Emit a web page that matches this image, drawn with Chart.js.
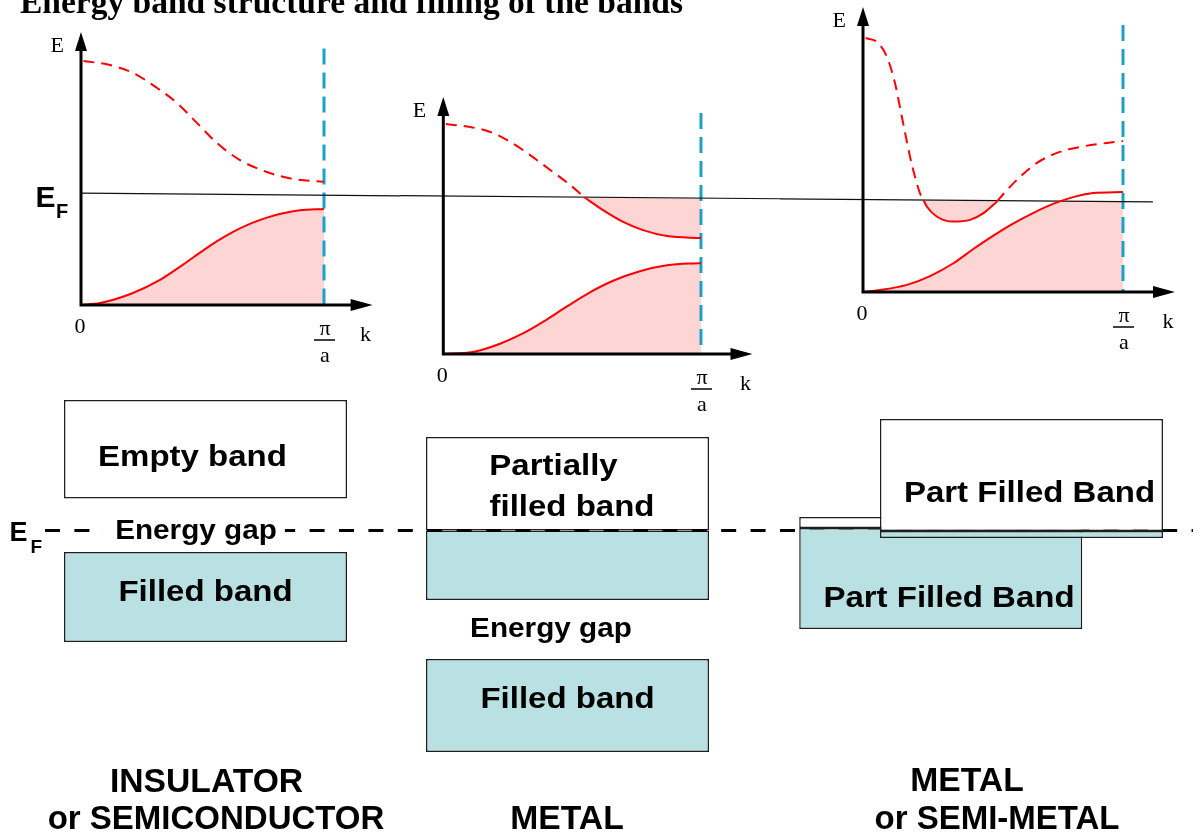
<!DOCTYPE html>
<html><head><meta charset="utf-8">
<script src="https://cdn.jsdelivr.net/npm/chart.js@4.4.1/dist/chart.umd.min.js"></script>
<style>
html,body{margin:0;padding:0;background:#fff;}
#wrap{position:relative;width:1201px;height:839px;overflow:hidden;background:#fff;}
canvas{position:absolute;}
#cBands{left:0;top:0;}
#cP1{left:0;top:0;}
#cP2{left:400px;top:0;}
#cP3{left:780px;top:0;}
</style></head><body>
<div id="wrap">
<canvas id="cBands" width="1201" height="839"></canvas>
<canvas id="cP1" width="400" height="380"></canvas>
<canvas id="cP2" width="380" height="420"></canvas>
<canvas id="cP3" width="421" height="370"></canvas>
</div>
<script>
// ---------- DATA (k in units of pi/a, E in arbitrary units per panel) ----------
const zoneEdgeK = 1;
// Panel 1: insulator / semiconductor
const p1LowerK = [0, 0.078, 0.214, 0.325, 0.42, 0.49, 0.56, 0.626, 0.695, 0.765, 0.831, 0.901, 1];
const p1LowerE = [0, 0.007, 0.044, 0.092, 0.148, 0.192, 0.234, 0.268, 0.297, 0.320, 0.336, 0.347, 0.352];
const p1UpperK = [0.01, 0.119, 0.214, 0.313, 0.395, 0.477, 0.560, 0.654, 0.765, 0.872, 1];
const p1UpperE = [0.894, 0.879, 0.850, 0.795, 0.740, 0.667, 0.593, 0.531, 0.487, 0.462, 0.451];
const p1FermiK = [0, 1.313];
const p1FermiE = [0.410, 0.400];
const p1EdgeTopE = 0.94;
// Panel 2: metal
const p2LowerK = [0, 0.115, 0.22, 0.309, 0.387, 0.48, 0.569, 0.659, 0.763, 0.868, 1];
const p2LowerE = [0, 0.008, 0.040, 0.080, 0.125, 0.185, 0.240, 0.285, 0.322, 0.345, 0.354];
const p2UpperEmptyK = [0.01, 0.105, 0.182, 0.260, 0.337, 0.415, 0.492, 0.547];
const p2UpperEmptyE = [0.895, 0.883, 0.864, 0.825, 0.774, 0.716, 0.658, 0.610];
const p2UpperFilledK = [0.547, 0.620, 0.698, 0.775, 0.868, 1];
const p2UpperFilledE = [0.610, 0.560, 0.514, 0.482, 0.459, 0.451];
const p2FermiK = [-0.168, 1.307];
const p2FermiE = [0.616, 0.604];
const p2FermiFill = 0.608;
const p2EdgeTopE = 0.938;
// Panel 3: metal or semi-metal
const p3LowerK = [0, 0.065, 0.169, 0.258, 0.346, 0.423, 0.500, 0.577, 0.654, 0.731, 0.808, 0.885, 1];
const p3LowerE = [0, 0.007, 0.025, 0.056, 0.100, 0.150, 0.197, 0.240, 0.277, 0.309, 0.333, 0.347, 0.351];
const p3LowerFillK = [0, 0.065, 0.169, 0.258, 0.346, 0.423, 0.500, 0.577, 0.654, 0.731, 0.765, 1];
const p3LowerFillE = [0, 0.007, 0.025, 0.056, 0.100, 0.150, 0.197, 0.240, 0.277, 0.309, 0.318, 0.316];
const p3UpperK1 = [0.01, 0.054, 0.092, 0.123, 0.142, 0.162, 0.181, 0.200, 0.219, 0.233];
const p3UpperE1 = [0.891, 0.877, 0.825, 0.733, 0.649, 0.558, 0.474, 0.404, 0.347, 0.322];
const p3PocketK = [0.233, 0.246, 0.285, 0.346, 0.412, 0.462, 0.515];
const p3PocketE = [0.322, 0.299, 0.264, 0.247, 0.253, 0.276, 0.317];
const p3UpperK2 = [0.515, 0.554, 0.604, 0.669, 0.746, 0.835, 0.938, 1];
const p3UpperE2 = [0.317, 0.358, 0.404, 0.453, 0.488, 0.509, 0.523, 0.530];
const p3FermiK = [-0.319, 1.115];
const p3FermiE = [0.327, 0.316];
const p3FermiFill = 0.32;
const p3EdgeTopE = 0.937;

// Band-filling schematic (energy relative to E_F)
const insCol = 1, metCol = 2, smLowerCol = 3.031, smUpperCol = 3.254;
const insEmptyBand = [0.32, 1.305];
const insFilledBand = [-1.115, -0.215];
const metPartialEmpty = [0, 0.935];
const metPartialFilled = [-0.695, 0];
const metFilledBand = [-2.215, -1.285];
const smLowerEmpty = [0.025, 0.135];
const smLowerFilled = [-0.985, 0.025];
const smUpperEmpty = [-0.005, 1.115];
const smUpperFilled = [-0.075, -0.005];
const fermiLevel = 0;
const fermiSpan = [0.5566, 3.7279];

// ---------- STYLE ----------
const RED = '#ff0000', PINK = 'rgb(253,213,213)', CYAN = '#1ca0c8', TEAL = 'rgb(185,224,227)';
const SANS = '"Liberation Sans", Arial, sans-serif';
const SERIF = '"Liberation Serif", "Times New Roman", serif';
const pts = (ks, es) => ks.map((k, i) => ({x: k, y: es[i]}));

function bandLine(ks, es, o) {
  return Object.assign({data: pts(ks, es), showLine: true, borderColor: RED, borderWidth: 2, pointRadius: 0,
    cubicInterpolationMode: 'monotone', fill: false, clip: false, borderCapStyle: 'butt'}, o || {});
}
function fermiLine(ks, es) {
  return {data: pts(ks, es), showLine: true, borderColor: '#111', borderWidth: 1.2, pointRadius: 0,
    tension: 0, fill: false, clip: false};
}
function zoneEdge(top) {
  return {data: [{x: zoneEdgeK, y: top}, {x: zoneEdgeK, y: 0}], showLine: true, borderColor: CYAN, borderWidth: 3,
    borderDash: [16, 8], pointRadius: 0, fill: false, clip: false, borderCapStyle: 'butt'};
}

const panelDecor = {
  id: 'panelDecor',
  afterDatasetsDraw(chart, args, o) {
    const {ctx, scales: {x, y}} = chart;
    const x0 = x.getPixelForValue(0), y0 = y.getPixelForValue(0);
    const xT = x.getPixelForValue(x.max), yT = y.getPixelForValue(y.max);
    const x1 = x.getPixelForValue(zoneEdgeK);
    ctx.save();
    ctx.strokeStyle = '#000'; ctx.fillStyle = '#000'; ctx.lineWidth = 3; ctx.lineCap = 'butt';
    ctx.beginPath();
    ctx.moveTo(x0 - 1.5, y0); ctx.lineTo(xT - 20, y0);
    ctx.moveTo(x0, y0 + 1.5); ctx.lineTo(x0, yT + 17);
    ctx.stroke();
    ctx.beginPath(); ctx.moveTo(xT, y0); ctx.lineTo(xT - 22, y0 - 6); ctx.lineTo(xT - 22, y0 + 6); ctx.closePath(); ctx.fill();
    ctx.beginPath(); ctx.moveTo(x0, yT); ctx.lineTo(x0 - 6, yT + 19); ctx.lineTo(x0 + 6, yT + 19); ctx.closePath(); ctx.fill();
    ctx.font = '22px ' + SERIF;
    ctx.textBaseline = 'alphabetic';
    ctx.textAlign = 'right'; ctx.fillText('E', x0 - 17, yT + 20);
    ctx.textAlign = 'center';
    ctx.fillText('0', x0 - 1, y0 + 28);
    ctx.fillText('π', x1 + 1, y0 + 30);
    ctx.fillText('a', x1 + 1, y0 + 57);
    ctx.fillText('k', xT - 7, y0 + 36);
    ctx.lineWidth = 1.5;
    ctx.beginPath(); ctx.moveTo(x1 - 10, y0 + 35); ctx.lineTo(x1 + 11, y0 + 35); ctx.stroke();
    if (o && o.fermiE !== undefined) {
      const yF = y.getPixelForValue(o.fermiE);
      ctx.textAlign = 'left';
      ctx.font = 'bold 30px ' + SANS; ctx.fillText('E', x0 - 45.5, yF + 13.7);
      ctx.font = 'bold 20px ' + SANS; ctx.fillText('F', x0 - 25, yF + 24.7);
    }
    ctx.restore();
  }
};

function panel(id, pad, datasets, deco) {
  return new Chart(document.getElementById(id), {
    type: 'scatter',
    data: {datasets},
    options: {
      responsive: false, animation: false, devicePixelRatio: 1, events: [],
      layout: {padding: pad},
      plugins: {legend: {display: false}, tooltip: {enabled: false}, title: {display: false},
        filler: {drawTime: 'beforeDatasetsDraw'}, panelDecor: deco || {}},
      scales: {x: {type: 'linear', min: 0, max: 1.2, display: false},
               y: {type: 'linear', min: 0, max: 1, display: false}}
    },
    plugins: [panelDecor]
  });
}

panel('cP1', {left: 81, right: 27.4, top: 32, bottom: 75}, [
  bandLine(p1LowerK, p1LowerE, {fill: 'origin', backgroundColor: PINK}),
  bandLine(p1UpperK, p1UpperE, {borderDash: [11, 7]}),
  fermiLine(p1FermiK, p1FermiE),
  zoneEdge(p1EdgeTopE)
], {fermiE: p1FermiE[0]});

panel('cP2', {left: 43.3, right: 27.5, top: 97, bottom: 66}, [
  bandLine(p2LowerK, p2LowerE, {fill: 'origin', backgroundColor: PINK}),
  bandLine(p2UpperEmptyK, p2UpperEmptyE, {borderDash: [11, 7]}),
  bandLine(p2UpperFilledK, p2UpperFilledE, {fill: {value: p2FermiFill}, backgroundColor: PINK}),
  fermiLine(p2FermiK, p2FermiE),
  zoneEdge(p2EdgeTopE)
]);

panel('cP3', {left: 83, right: 26, top: 7, bottom: 78}, [
  bandLine(p3LowerK, p3LowerE),
  bandLine(p3UpperK1, p3UpperE1, {borderDash: [11, 7]}),
  bandLine(p3PocketK, p3PocketE, {fill: {value: p3FermiFill}, backgroundColor: PINK}),
  bandLine(p3UpperK2, p3UpperE2, {borderDash: [11, 7]}),
  fermiLine(p3FermiK, p3FermiE),
  zoneEdge(p3EdgeTopE),
  bandLine(p3LowerFillK, p3LowerFillE, {borderWidth: 0, borderColor: 'rgba(0,0,0,0)', fill: 'origin', backgroundColor: PINK})
]);

// ---------- band filling schematic ----------
function bandBox(col, range, color, order, label) {
  return {type: 'bar', label, data: [{x: col, y: range}], backgroundColor: color, borderColor: '#1e1e1e',
    borderWidth: 1.5, borderSkipped: false, barThickness: 283, stack: 'bands', order, inflateAmount: 0};
}

const textItems = [
  {text: 'Energy band structure and filling of the bands', x: 0.4876, y: 5.175, font: 'bold 33.5px ' + SERIF, align: 'left'},
  {text: 'Empty band', x: 0.9641, y: 0.645, font: 'bold 30px ' + SANS, sx: 1.1},
  {text: 'Filled band', x: 1.0, y: -0.702, font: 'bold 30px ' + SANS, sx: 1.1},
  {text: 'Energy gap', x: 0.9738, y: -0.088, font: 'bold 27px ' + SANS, sx: 1.1, bg: '#fff'},
  {text: 'Partially', x: 1.9613, y: 0.555, font: 'bold 30px ' + SANS, sx: 1.1},
  {text: 'filled band', x: 2.0124, y: 0.148, font: 'bold 30px ' + SANS, sx: 1.1},
  {text: 'Energy gap', x: 1.9544, y: -1.062, font: 'bold 27px ' + SANS, sx: 1.1},
  {text: 'Filled band', x: 2.0, y: -1.778, font: 'bold 30px ' + SANS, sx: 1.1},
  {text: 'Part Filled Band', x: 3.2762, y: 0.288, font: 'bold 30px ' + SANS, sx: 1.1},
  {text: 'Part Filled Band', x: 3.0539, y: -0.768, font: 'bold 30px ' + SANS, sx: 1.1},
  {text: 'E', x: 0.4586, y: -0.105, font: 'bold 27px ' + SANS, align: 'left'},
  {text: 'F', x: 0.5166, y: -0.225, font: 'bold 19px ' + SANS, align: 'left'},
  {text: 'INSULATOR', x: 1.0028, y: -2.612, font: 'bold 33px ' + SANS, sx: 1.02},
  {text: 'or SEMICONDUCTOR', x: 1.029, y: -2.985, font: 'bold 33px ' + SANS, sx: 1.0},
  {text: 'METAL', x: 1.9986, y: -2.985, font: 'bold 33px ' + SANS, sx: 1.02},
  {text: 'METAL', x: 3.1036, y: -2.605, font: 'bold 33px ' + SANS, sx: 1.02},
  {text: 'or SEMI-METAL', x: 3.1865, y: -2.985, font: 'bold 33px ' + SANS, sx: 1.0}
];

const bandText = {
  id: 'bandText',
  afterDatasetsDraw(chart, args, o) {
    const {ctx, scales: {x, y}} = chart;
    ctx.save();
    ctx.textBaseline = 'alphabetic'; ctx.textAlign = 'left';
    for (const t of o.items) {
      const px = x.getPixelForValue(t.x), py = y.getPixelForValue(t.y);
      const sx = t.sx || 1;
      ctx.font = t.font;
      const w = ctx.measureText(t.text).width * sx;
      const left = t.align === 'left' ? px : px - w / 2;
      if (t.bg) { ctx.fillStyle = t.bg; ctx.fillRect(left - 12, py - 15, w + 20, 12); }
      ctx.fillStyle = '#000';
      ctx.save(); ctx.translate(left, py); ctx.scale(sx, 1); ctx.fillText(t.text, 0, 0); ctx.restore();
    }
    ctx.restore();
  }
};

new Chart(document.getElementById('cBands'), {
  type: 'bar',
  data: {datasets: [
    bandBox(insCol, insEmptyBand, '#ffffff', 3, 'Empty band'),
    bandBox(insCol, insFilledBand, TEAL, 3, 'Filled band'),
    bandBox(metCol, metPartialEmpty, '#ffffff', 3, 'Partially filled band (empty part)'),
    bandBox(metCol, metPartialFilled, TEAL, 3, 'Partially filled band (filled part)'),
    bandBox(metCol, metFilledBand, TEAL, 3, 'Filled band'),
    {type: 'line', label: 'E_F', data: [{x: fermiSpan[0], y: fermiLevel}, {x: fermiSpan[1], y: fermiLevel}],
      borderColor: '#000', borderWidth: 3, borderDash: [15, 14.4], pointRadius: 0, fill: false, clip: false, order: 2, tension: 0},
    bandBox(smLowerCol, smLowerEmpty, '#ffffff', 1, 'Part filled band (lower, empty)'),
    bandBox(smLowerCol, smLowerFilled, TEAL, 1, 'Part filled band (lower, filled)'),
    bandBox(smUpperCol, smUpperEmpty, '#ffffff', 0, 'Part filled band (upper, empty)'),
    bandBox(smUpperCol, smUpperFilled, TEAL, 0, 'Part filled band (upper, filled)')
  ]},
  options: {
    responsive: false, animation: false, devicePixelRatio: 1, events: [],
    layout: {padding: 0},
    plugins: {legend: {display: false}, tooltip: {enabled: false}, title: {display: false}, bandText: {items: textItems}},
    scales: {
      x: {type: 'linear', min: 0.43232, max: 3.75, display: false, offset: false},
      y: {type: 'linear', min: -3.085, max: 5.305, display: false, stacked: false, beginAtZero: false}
    }
  },
  plugins: [bandText]
});
</script>
</body></html>
